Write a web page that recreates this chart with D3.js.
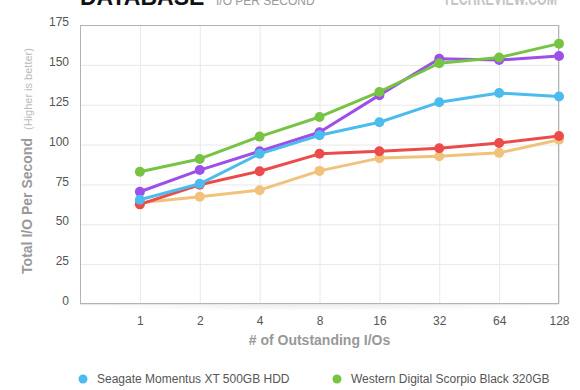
<!DOCTYPE html>
<html>
<head>
<meta charset="utf-8">
<script src="https://cdn.jsdelivr.net/npm/d3@7"></script>
<style>
body{margin:0;background:#fff;}
svg{display:block;font-family:"Liberation Sans",Arial,sans-serif;}
</style>
</head>
<body>
<script>
var width = 580, height = 390;

// data
var categories = ["1", "2", "4", "8", "16", "32", "64", "128"];
var yTicks = [0, 25, 50, 75, 100, 125, 150, 175];

var seagate = [65.4, 75.4, 94.2, 105.8, 114, 126.5, 132.3, 130.2];
var wdBlack = [82.9, 91, 105, 117.3, 133, 151, 154.6, 163.3];
var purpleDrive = [70.4, 84, 95.8, 107.7, 131, 153.8, 153, 155.6];
var redDrive = [62.5, 74.8, 83.3, 94.2, 95.8, 97.7, 101, 105.4];
var orangeDrive = [63.5, 67.3, 71.4, 83.5, 91.5, 92.7, 94.8, 103];

var legendNames = ["Seagate Momentus XT 500GB HDD", "Western Digital Scorpio Black 320GB"];

// drawing order: bottom first
var series = [
	{values: orangeDrive, color: "#f0c27b"},
	{values: redDrive, color: "#ec4b4b"},
	{values: purpleDrive, color: "#9c4fe9"},
	{values: seagate, color: "#4cbcee"},
	{values: wdBlack, color: "#77c343"}
];
var legendColors = ["#4cbcee", "#77c343"];

var plotLeft = 80, plotRight = 559, plotTop = 25, plotBottom = 304;

var svg = d3.select("body")
	.append("svg")
	.attr("width", width)
	.attr("height", height);

var x = d3.scalePoint()
	.domain([""].concat(categories))
	.range([plotLeft, plotRight]);

var y = d3.scaleLinear()
	.domain([0, 175])
	.range([plotBottom, plotTop]);

// soft shadow under the plot
var grad = svg.append("defs").append("radialGradient")
	.attr("id", "shade")
	.attr("cx", "50%").attr("cy", "0%").attr("r", "60%");
grad.append("stop").attr("offset", "0%").attr("stop-color", "#000").attr("stop-opacity", 0.08);
grad.append("stop").attr("offset", "100%").attr("stop-color", "#000").attr("stop-opacity", 0);
svg.append("rect")
	.attr("x", plotLeft + 20).attr("y", plotBottom)
	.attr("width", plotRight - plotLeft - 40).attr("height", 12)
	.attr("fill", "url(#shade)");

svg.append("rect")
	.attr("x", plotLeft).attr("y", plotTop)
	.attr("width", plotRight - plotLeft).attr("height", plotBottom - plotTop)
	.attr("fill", "#fff");

// grid
svg.append("g")
	.attr("transform", "translate(0," + plotBottom + ")")
	.call(d3.axisBottom(x).tickSize(-(plotBottom - plotTop)).tickFormat(""))
	.call(function(g){
		g.select(".domain").remove();
		g.selectAll("line").attr("stroke", "#e8e8e8");
	});

svg.append("g")
	.attr("transform", "translate(" + plotLeft + ",0)")
	.call(d3.axisLeft(y).tickValues(yTicks).tickSize(-(plotRight - plotLeft)).tickFormat(""))
	.call(function(g){
		g.select(".domain").remove();
		g.selectAll("line").attr("stroke", "#e8e8e8");
	});

svg.append("rect")
	.attr("x", plotLeft + 0.5).attr("y", plotTop + 0.5)
	.attr("width", plotRight - plotLeft - 1).attr("height", plotBottom - plotTop - 1)
	.attr("fill", "none")
	.attr("stroke", "#b3b3b3");

// tick labels
svg.append("g")
	.attr("transform", "translate(" + (plotLeft - 11) + ",0)")
	.call(d3.axisLeft(y).tickValues(yTicks).tickSize(0))
	.call(function(g){
		g.select(".domain").remove();
		g.selectAll("text")
			.attr("font-family", "Liberation Sans, Arial, sans-serif")
			.attr("font-size", 12)
			.attr("fill", "#555")
			.attr("dy", "0.05em")
			.attr("x", 0);
	});

svg.append("g")
	.attr("transform", "translate(0," + (plotBottom + 9) + ")")
	.call(d3.axisBottom(x).tickSize(0))
	.call(function(g){
		g.select(".domain").remove();
		g.selectAll("text")
			.attr("font-family", "Liberation Sans, Arial, sans-serif")
			.attr("font-size", 12)
			.attr("fill", "#555");
	});

// axis titles
svg.append("text")
	.attr("x", (plotLeft + plotRight) / 2)
	.attr("y", 345)
	.attr("text-anchor", "middle")
	.attr("font-size", 14)
	.attr("font-weight", "bold")
	.attr("fill", "#999")
	.text("# of Outstanding I/Os");

var yTitle = svg.append("text")
	.attr("transform", "translate(32,161) rotate(-90)")
	.attr("text-anchor", "middle");
yTitle.append("tspan")
	.attr("font-size", 14)
	.attr("font-weight", "bold")
	.attr("fill", "#999")
	.text("Total I/O Per Second");
yTitle.append("tspan")
	.attr("font-size", 11)
	.attr("fill", "#bbb")
	.attr("dx", 8)
	.text("(Higher is better)");

// title, cut at the top
svg.append("text")
	.attr("x", 80).attr("y", 5)
	.attr("font-size", 23)
	.attr("font-weight", "bold")
	.attr("fill", "#111")
	.text("DATABASE");
svg.append("text")
	.attr("x", 216).attr("y", 5)
	.attr("font-size", 12)
	.attr("fill", "#999")
	.text("I/O PER SECOND");
svg.append("text")
	.attr("x", 443).attr("y", 5)
	.attr("font-size", 18)
	.attr("font-weight", "bold")
	.attr("fill", "#c4c4c4")
	.attr("textLength", 114)
	.attr("lengthAdjust", "spacingAndGlyphs")
	.text("TECHREVIEW.COM");

// lines and points
var line = d3.line()
	.x(function(d, i){ return x(categories[i]); })
	.y(function(d){ return y(d); });

series.forEach(function(s){
	var g = svg.append("g");
	g.append("path")
		.datum(s.values)
		.attr("d", line)
		.attr("fill", "none")
		.attr("stroke", s.color)
		.attr("stroke-width", 3)
		.attr("stroke-linejoin", "round");
	g.selectAll("circle")
		.data(s.values)
		.enter()
		.append("circle")
		.attr("cx", function(d, i){ return x(categories[i]); })
		.attr("cy", function(d){ return y(d); })
		.attr("r", 5)
		.attr("fill", s.color);
});

// legend
var legendX = [83, 337];
legendNames.forEach(function(name, i){
	svg.append("circle")
		.attr("cx", legendX[i]).attr("cy", 379)
		.attr("r", 4.5)
		.attr("fill", legendColors[i]);
	svg.append("text")
		.attr("x", legendX[i] + 14).attr("y", 383)
		.attr("font-size", 12)
		.attr("fill", "#555")
		.text(name);
});
</script>
</body>
</html>
